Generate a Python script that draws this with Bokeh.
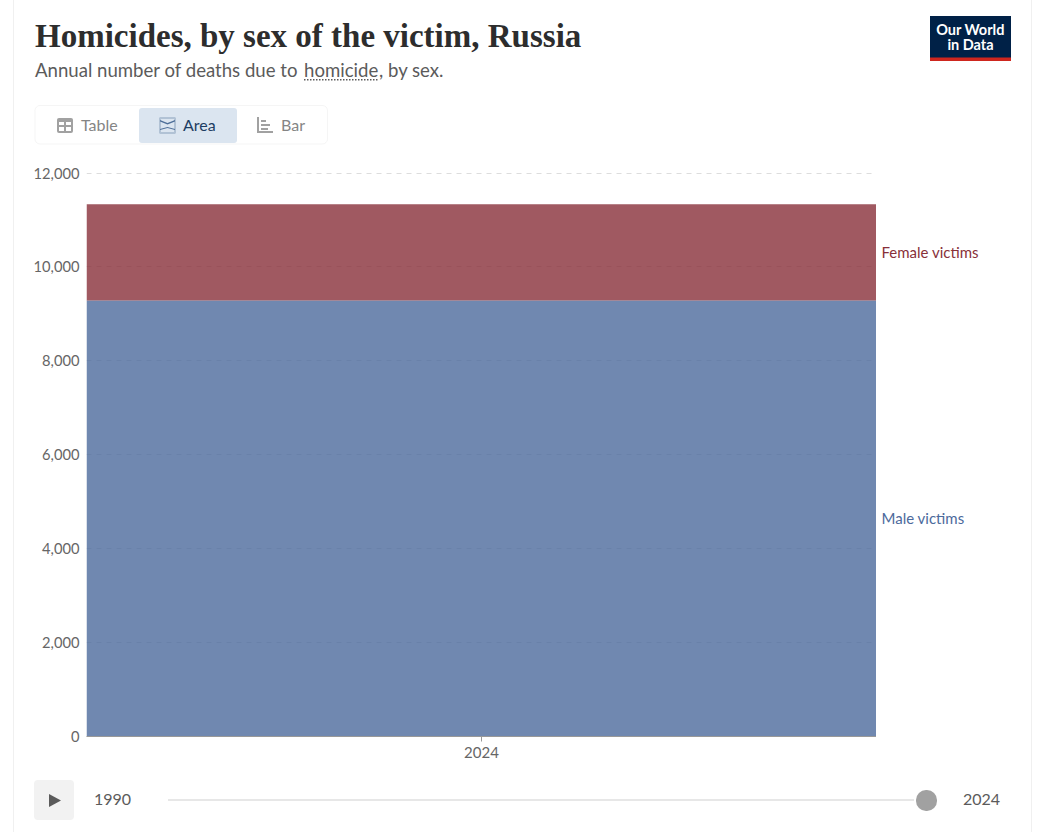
from bokeh.plotting import figure
from bokeh.layouts import column, row
from bokeh.embed import file_html
from bokeh.resources import INLINE
from bokeh.models import Label, BoxAnnotation, PolyAnnotation, FixedTicker, NumeralTickFormatter, Range1d, CustomJSTickFormatter
from bokeh.models import ColumnDataSource

years = [2024]
male_victims = [9285]
female_victims = [2050]
y_ticks = [0, 2000, 4000, 6000, 8000, 10000, 12000]
x_ticks = [2024]
series_names = ["Male victims", "Female victims"]
title_text = "Homicides, by sex of the victim, Russia"
subtitle_a = "Annual number of deaths due to "
subtitle_link = "homicide"
subtitle_b = ", by sex."

FW = 1017
MAIN_W = 862
HEAD_H, MAIN_H, FOOT_H = 150, 622, 60


def blank(width, height):
    f = figure(width=width, height=height, output_backend="svg", toolbar_location=None,
               x_axis_type=None, y_axis_type=None, x_range=Range1d(0, 1), y_range=Range1d(0, 1),
               min_border=0, background_fill_color="white", border_fill_color="white",
               frame_align=False)
    f.outline_line_color = None
    f.grid.visible = False
    return f


main = figure(width=MAIN_W, height=MAIN_H, output_backend="svg", toolbar_location=None,
              x_range=Range1d(2023.5, 2024.5), y_range=Range1d(0, 12183),
              min_border_left=72, min_border_right=0, min_border_top=14, min_border_bottom=36,
              background_fill_color="white", border_fill_color="white", frame_align=False)
main.outline_line_color = None
main.xgrid.visible = False
main.ygrid.ticker = FixedTicker(ticks=y_ticks)
main.ygrid.grid_line_color = "#dddddd"
main.ygrid.grid_line_dash = "5 5"
main.ygrid.level = "underlay"

main.yaxis.ticker = FixedTicker(ticks=y_ticks)
main.yaxis.formatter = NumeralTickFormatter(format="0,0")
main.yaxis.axis_line_color = None
main.yaxis.major_tick_line_color = None
main.yaxis.minor_tick_line_color = None
main.yaxis.major_label_standoff = 1
main.yaxis.major_label_text_font = "Lato"
main.yaxis.major_label_text_font_size = "14.7px"
main.yaxis.major_label_text_color = "#666666"

main.xaxis.ticker = FixedTicker(ticks=x_ticks)
main.xaxis.formatter = CustomJSTickFormatter(code="return String(tick)")
main.xaxis.axis_line_color = "#999999"
main.xaxis.minor_tick_line_color = None
main.xaxis.major_tick_line_color = "#999999"
main.xaxis.major_tick_in = 0
main.xaxis.major_tick_out = 5
main.xaxis.major_label_standoff = 5
main.xaxis.major_label_text_font = "Lato"
main.xaxis.major_label_text_font_size = "15px"
main.xaxis.major_label_text_color = "#666666"

src = ColumnDataSource(dict(x=years, male=male_victims,
                            total=[m + f for m, f in zip(male_victims, female_victims)],
                            base=[0 for _ in years]))
main.vbar(x="x", width=1, bottom="base", top="male", source=src,
          fill_color="#4C6A9C", fill_alpha=0.8, line_color=None)
main.vbar(x="x", width=1, bottom="male", top="total", source=src,
          fill_color="#883039", fill_alpha=0.8, line_color=None)

head = blank(FW, HEAD_H)
side = blank(FW - MAIN_W, MAIN_H)
foot = blank(FW, FOOT_H)
ORIGIN = {head.id: (14.5, 0.5), side.id: (877, 151), foot.id: (14.5, 772.5)}


def text(f, x, y, s, size, color, font="Lato", style="normal", align="left"):
    ox, oy = ORIGIN[f.id]
    f.add_layout(Label(x=x - ox, y=f.height - (y - oy), x_units="screen", y_units="screen", text=s,
                       text_font=font, text_font_size=f"{size}px", text_color=color,
                       text_font_style=style, text_align=align, text_baseline="alphabetic"))


def box(f, x0, y0, x1, y1, color, line=None, lw=1, radius=0):
    ox, oy = ORIGIN[f.id]
    H = f.height
    f.add_layout(BoxAnnotation(left=x0 - ox, right=x1 - ox, top=H - (y0 - oy), bottom=H - (y1 - oy),
                               left_units="screen", right_units="screen", top_units="screen", bottom_units="screen",
                               fill_color=color, fill_alpha=1 if color else 0,
                               line_color=line, line_width=lw, border_radius=radius, level="underlay"))


def poly(f, xs, ys, color):
    ox, oy = ORIGIN[f.id]
    H = f.height
    f.add_layout(PolyAnnotation(xs=[x - ox for x in xs], ys=[H - (y - oy) for y in ys],
                                xs_units="screen", ys_units="screen",
                                fill_color=color, fill_alpha=1, line_color=None, level="underlay"))


# heading
text(head, 35, 36, title_text, 33, "#2d2d2d", font="Liberation Serif", style="bold")
text(head, 35, 70, subtitle_a, 18.6, "#5b5b5b")
text(head, 304, 70, subtitle_link, 18.6, "#5b5b5b")
text(head, 379, 70, subtitle_b, 18.6, "#5b5b5b")
for i in range(304, 378, 3):
    box(head, i, 79, i + 1.5, 80.5, "#5b5b5b")

# logo
box(head, 930, 16, 1011, 61, "#002147")
box(head, 930, 57.5, 1011, 61, "#ce261e")
text(head, 970.5, 29, "Our World", 14.5, "white", style="bold", align="center")
text(head, 970.5, 44, "in Data", 14.5, "white", style="bold", align="center")

# tabs
box(head, 35, 105.5, 327.5, 144, None, line="#dedede", radius=5)
box(head, 139, 108, 237, 143, "#dbe5f0", radius=3)
text(head, 81, 124, "Table", 16, "#858585")
text(head, 183, 124, "Area", 16, "#1d3d63")
text(head, 281, 124, "Bar", 16, "#858585")
box(head, 57, 118, 73, 133, "#a1a1a1", radius=2)
box(head, 59, 122, 64, 125, "white")
box(head, 66, 122, 71, 125, "white")
box(head, 59, 127, 64, 131, "white")
box(head, 66, 127, 71, 131, "white")
box(head, 160, 118, 175, 133, None, line="#4e6f99", lw=2)
poly(head, [160, 167.5, 175, 175, 167.5, 160], [120, 123, 120, 121.5, 124.5, 121.5], "#4e6f99")
poly(head, [160, 167.5, 175, 175, 167.5, 160], [129, 127, 129, 130, 128, 130], "#4e6f99")
box(head, 257, 117, 259, 133, "#a1a1a1")
box(head, 257, 131, 273, 133, "#a1a1a1")
box(head, 261, 120, 266, 122, "#a1a1a1")
box(head, 261, 124, 270, 126, "#a1a1a1")
box(head, 261, 128, 268, 130, "#a1a1a1")

# series labels
text(side, 882, 252, series_names[1], 15, "#883039")
text(side, 882, 518, series_names[0], 15, "#4C6A9C")

# timeline
box(foot, 34, 780, 74, 820, "#f2f2f2", radius=4)
poly(foot, [49, 61, 49], [794, 800.5, 807], "#5b5b5b")
text(foot, 94, 799, "1990", 16, "#5b5b5b")
text(foot, 963, 799, "2024", 16, "#5b5b5b")
box(foot, 168, 799, 914, 801, "#e7e7e7")
box(foot, 916, 790, 937, 811, "#a1a1a1", radius=10)

page = column(head, row(main, side, spacing=0), foot, spacing=0, margin=(0, 0, 0, 0),
              styles={"border-left": "1px solid #f0f0f0", "border-right": "1px solid #f0f0f0",
                      "margin-left": "13px"})
open("out.html", "w").write(file_html(page, INLINE))
